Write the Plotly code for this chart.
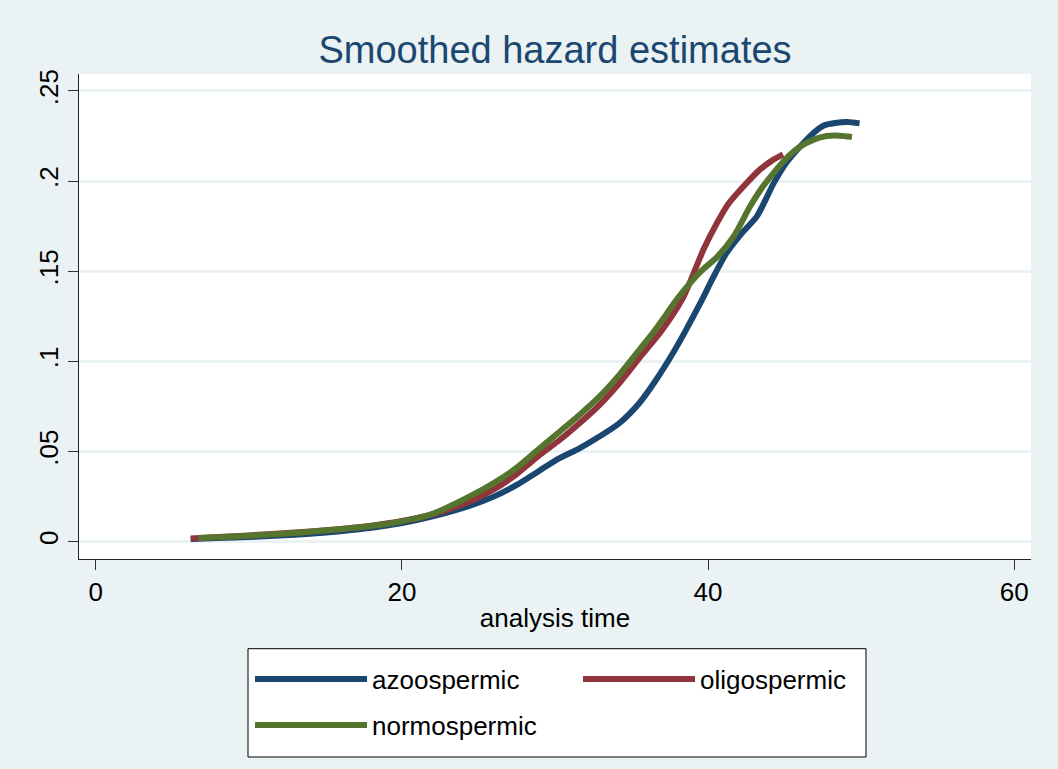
import plotly.graph_objects as go

# ---- data ----
azoo_x = [6.2, 8, 10, 12, 14, 16, 18, 20, 22, 24.4, 26, 27.5, 29.0, 30.3, 31.6, 32.9, 34.2,
          35.5, 36.6, 37.7, 38.5, 39.5, 40.3, 41.2, 42.2, 43.2, 44.3, 45.1, 46.0, 46.8,
          47.5, 48.3, 49.1, 49.9]
azoo_y = [0.0015, 0.0020, 0.0026, 0.0034, 0.0044, 0.0058, 0.0077, 0.0103, 0.0140, 0.0198,
          0.0250, 0.0315, 0.0395, 0.0463, 0.0518, 0.0583, 0.0657, 0.0768, 0.0897, 0.1045,
          0.1165, 0.1324, 0.1460, 0.1600, 0.1710, 0.1806, 0.1990, 0.2100, 0.2190, 0.2260,
          0.2306, 0.2322, 0.2328, 0.2320]

oligo_x = [6.2, 8, 10, 12, 14, 16, 18, 20, 22, 24.4, 26, 27.5, 29.0, 30.3, 31.6, 32.9, 34.2,
           35.5, 37.0, 38.3, 38.8, 39.7, 40.6, 41.3, 42.1, 43.4, 44.2, 44.9]
oligo_y = [0.0018, 0.0026, 0.0035, 0.0045, 0.0057, 0.0071, 0.0089, 0.0115, 0.0152, 0.0222,
           0.0290, 0.0375, 0.0481, 0.0564, 0.0657, 0.0758, 0.0879, 0.1017, 0.1174, 0.1343,
           0.1435, 0.1620, 0.1770, 0.1870, 0.1950, 0.2065, 0.2115, 0.2148]

normo_x = [6.7, 8, 10, 12, 14, 16, 18, 20, 22, 24.4, 26, 27.5, 29.0, 30.3, 31.6, 32.9, 34.2,
           35.5, 36.5, 37.3, 38.0, 38.8, 39.6, 40.6, 41.65, 42.75, 43.5, 44.3, 45.1, 46.0,
           46.9, 47.75, 48.6, 49.4]
normo_y = [0.0020, 0.0025, 0.0033, 0.0043, 0.0055, 0.0069, 0.0087, 0.0113, 0.0155, 0.0250,
           0.0325, 0.0410, 0.0518, 0.0610, 0.0703, 0.0804, 0.0925, 0.1063, 0.1170, 0.1265,
           0.1348, 0.1432, 0.1505, 0.1580, 0.1690, 0.1860, 0.1960, 0.2047, 0.2125, 0.2190,
           0.2230, 0.2250, 0.2252, 0.2245]

series_names = ["azoospermic", "oligospermic", "normospermic"]
x_tickvals = [0, 20, 40, 60]
y_tickvals = [0, 0.05, 0.10, 0.15, 0.20, 0.25]
y_ticktext = ["0", ".05", ".1", ".15", ".2", ".25"]

# ---- style ----
FONT = "Liberation Sans, Arial, Helvetica, sans-serif"
BG = "#eaf2f3"
colors = ["#1a476f", "#90353b", "#55752f"]

W, H = 1058, 769
L, R, T, B = 79, 27, 74, 210
PW, PH = W - L - R, H - T - B


def px_to_paper_x(px):
    return (px - L) / PW


def px_to_paper_y(py):
    return (H - B - py) / PH


fig = go.Figure()
data = [(azoo_x, azoo_y), (oligo_x, oligo_y), (normo_x, normo_y)]
legends = ["legend", "legend", "legend2"]
for (xs, ys), name, c, lg in zip(data, series_names, colors, legends):
    fig.add_trace(go.Scatter(
        x=xs, y=ys, mode="lines", name=name,
        line=dict(color=c, width=6, shape="spline", smoothing=0.7),
        legend=lg,
    ))

legend_common = dict(
    orientation="h", xref="paper", yref="paper", xanchor="left", yanchor="middle",
    bgcolor="rgba(0,0,0,0)", borderwidth=0, itemwidth=112,
    font=dict(family=FONT, size=26, color="#000000"),
    entrywidth=201, entrywidthmode="pixels", traceorder="normal",
)

fig.update_layout(
    width=W, height=H,
    margin=dict(l=L, r=R, t=T, b=B, autoexpand=False),
    paper_bgcolor=BG, plot_bgcolor="#ffffff",
    font=dict(family=FONT, size=26, color="#000000"),
    title=dict(text="Smoothed hazard estimates", x=0.5, xref="paper", xanchor="center",
               y=1 - 50 / H, yref="container", yanchor="middle",
               font=dict(family=FONT, size=38, color="#1a476f")),
    xaxis=dict(range=[-1.1, 61.1], tickvals=x_tickvals, ticks="outside", ticklen=10,
               tickwidth=1, tickcolor="#333333", showline=True, linecolor="#222222",
               linewidth=1, showgrid=False, zeroline=False,
               tickfont=dict(family=FONT, size=26, color="#000000"),
               title=dict(text="analysis time", standoff=2,
                          font=dict(family=FONT, size=26, color="#000000"))),
    yaxis=dict(range=[-0.0096, 0.2594], tickvals=y_tickvals, ticktext=y_ticktext,
               tickangle=-90, ticks="outside", ticklen=10, tickwidth=1,
               tickcolor="#333333", showline=True, linecolor="#222222", linewidth=1,
               showgrid=True, gridcolor=BG, gridwidth=2.5, zeroline=False,
               tickfont=dict(family=FONT, size=26, color="#000000")),
    legend=dict(x=px_to_paper_x(250), y=px_to_paper_y(679), **legend_common),
    legend2=dict(x=px_to_paper_x(250), y=px_to_paper_y(725), **legend_common),
    shapes=[dict(type="rect", xref="paper", yref="paper",
                 x0=px_to_paper_x(248), x1=px_to_paper_x(866),
                 y0=px_to_paper_y(757), y1=px_to_paper_y(648.7),
                 fillcolor="#ffffff", line=dict(color="#000000", width=1), layer="above")],
    showlegend=True,
)

fig.write_html("out.html", config={"displayModeBar": False},
               post_script="document.body.style.margin='0px';")
